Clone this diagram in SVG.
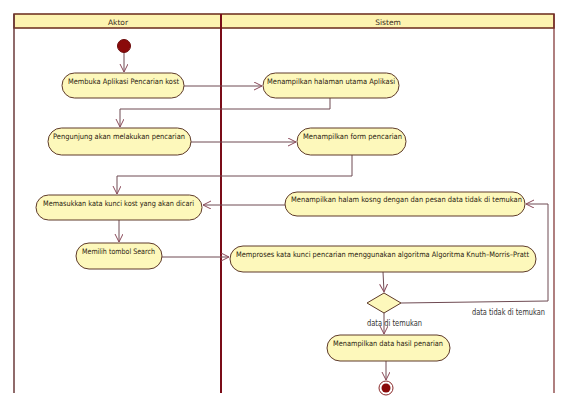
<svg xmlns="http://www.w3.org/2000/svg" width="569" height="411" viewBox="0 0 569 411">
<style>
.act{fill:#fdf8bb;stroke:#5e3a2a;stroke-width:1}
.t{font-family:"DejaVu Sans","Liberation Sans",sans-serif;font-size:7.5px;fill:#2a1a10}
.lbl{font-family:"DejaVu Sans","Liberation Sans",sans-serif;font-size:8px;fill:#333}
.hd{font-family:"DejaVu Sans","Liberation Sans",sans-serif;font-size:7.5px;fill:#3a2a20;text-anchor:middle}
.c{fill:none;stroke:#6e4a52;stroke-width:1}
</style>
<defs>
<marker id="ah" markerWidth="10" markerHeight="10" refX="8" refY="4" orient="auto" markerUnits="userSpaceOnUse">
<path d="M0,0 L8,4 L0,8" fill="none" stroke="#8a4a5a" stroke-width="1"/>
</marker>
</defs>
<rect width="569" height="411" fill="#ffffff"/>
<g id="lanes">
<rect x="14" y="14" width="540" height="14" fill="#fdf3b0" stroke="#6a2a1a" stroke-width="1.5"/>
<line x1="14" y1="14" x2="14" y2="393" stroke="#6b3a3a" stroke-width="1.5"/>
<line x1="554" y1="14" x2="554" y2="393" stroke="#7a2a2a" stroke-width="1.2"/>
<line x1="221" y1="14" x2="221" y2="393" stroke="#7a0c18" stroke-width="2"/>
<text class="hd" x="118" y="24.5">Aktor</text>
<text class="hd" x="388" y="24.5">Sistem</text>
</g>
<g id="connectors">
<line class="c" x1="124" y1="53" x2="124" y2="72" marker-end="url(#ah)"/>
<line class="c" x1="184" y1="86" x2="262" y2="86" marker-end="url(#ah)"/>
<polyline class="c" points="330,98 330,109 120,109 120,127" marker-end="url(#ah)"/>
<line class="c" x1="191" y1="142" x2="296" y2="142" marker-end="url(#ah)"/>
<polyline class="c" points="352,155 352,176 117,176 117,194" marker-end="url(#ah)"/>
<line class="c" x1="285" y1="205" x2="203" y2="205" marker-end="url(#ah)" stroke="#4a1010" stroke-width="1.3"/>
<line class="c" x1="119" y1="220" x2="119" y2="242" marker-end="url(#ah)"/>
<line class="c" x1="162" y1="257" x2="229" y2="257" marker-end="url(#ah)"/>
<line class="c" x1="383" y1="272" x2="384" y2="292" marker-end="url(#ah)"/>
<polyline class="c" points="401,303 548,301 548,204 526,204" marker-end="url(#ah)"/>
<line class="c" x1="384" y1="313" x2="384" y2="334" marker-end="url(#ah)"/>
<line class="c" x1="386" y1="361" x2="386" y2="380" marker-end="url(#ah)"/>
<text class="lbl" x="472" y="315" textLength="73" lengthAdjust="spacingAndGlyphs">data tidak di temukan</text>
<text class="lbl" x="367" y="326" textLength="55" lengthAdjust="spacingAndGlyphs">data di temukan</text>
</g>
<g id="start"><circle cx="124" cy="46" r="6.5" fill="#8a0a0a" stroke="#6a0a0a"/></g>
<g id="n1"><rect class="act" x="62" y="73" width="122" height="25" rx="12.5"/><text class="t" x="68" y="84" textLength="111" lengthAdjust="spacingAndGlyphs">Membuka Aplikasi Pencarian kost</text></g>
<g id="n2"><rect class="act" x="263" y="73" width="136" height="25" rx="12.5"/><text class="t" x="267" y="84" textLength="128" lengthAdjust="spacingAndGlyphs">Menampilkan halaman utama Aplikasi</text></g>
<g id="n3"><rect class="act" x="48" y="128" width="143" height="27" rx="13.5"/><text class="t" x="53" y="139" textLength="132" lengthAdjust="spacingAndGlyphs">Pengunjung akan melakukan pencarian</text></g>
<g id="n4"><rect class="act" x="297" y="128" width="109" height="27" rx="13.5"/><text class="t" x="303" y="139" textLength="99" lengthAdjust="spacingAndGlyphs">Menampilkan form pencarian</text></g>
<g id="n5"><rect class="act" x="36" y="195" width="166" height="25" rx="12.5"/><text class="t" x="43" y="206" textLength="151" lengthAdjust="spacingAndGlyphs">Memasukkan kata kunci kost yang akan dicari</text></g>
<g id="n6"><rect class="act" x="285" y="192" width="240" height="24" rx="12"/><text class="t" x="291" y="202" textLength="231" lengthAdjust="spacingAndGlyphs">Menampilkan halam kosng dengan dan pesan data tidak di temukan</text></g>
<g id="n7"><rect class="act" x="76" y="243" width="86" height="26" rx="13"/><text class="t" x="82" y="254" textLength="73" lengthAdjust="spacingAndGlyphs">Memilih tombol Search</text></g>
<g id="n8"><rect class="act" x="230" y="246" width="306" height="26" rx="13"/><text class="t" x="236" y="257" textLength="293" lengthAdjust="spacingAndGlyphs">Memproses kata kunci pencarian  menggunakan algoritma Algoritma Knuth–Morris–Pratt</text></g>
<g id="decision"><polygon points="384,293 401,303 384,313 367,303" fill="#fdf8bb" stroke="#5e3a2a"/></g>
<g id="n9"><rect class="act" x="327" y="335" width="123" height="26" rx="13"/><text class="t" x="333" y="346" textLength="110" lengthAdjust="spacingAndGlyphs">Menampilkan data hasil penarian</text></g>
<g id="end"><circle cx="386" cy="388" r="7" fill="#ffffff" stroke="#8a2a2a"/><circle cx="386" cy="388" r="4.5" fill="#8a0a0a"/></g>
</svg>
